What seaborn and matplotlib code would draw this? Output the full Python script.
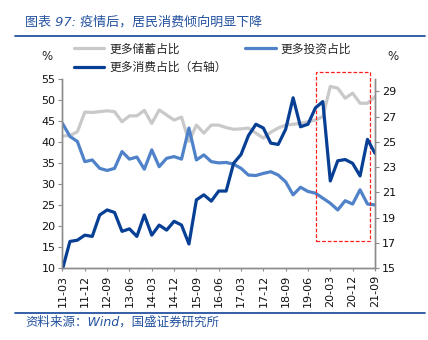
import matplotlib
matplotlib.use("Agg")
import matplotlib.pyplot as plt
import matplotlib.lines as mlines
import matplotlib.patches as mpatches
import seaborn as sns
import pandas as pd
import numpy as np

# ---- data ----
quarters = pd.period_range("2011Q1", "2021Q3", freq="Q")
dates = [f"{p.year % 100:02d}-{p.quarter * 3:02d}" for p in quarters]

savings = [41.4, 41.5, 42.4, 47.1, 47.0, 47.2, 47.4, 47.2, 44.8, 46.2,
           46.2, 47.5, 44.4, 47.6, 46.4, 45.2, 45.9, 40.1, 44.0, 42.1,
           44.0, 44.0, 43.4, 43.0, 43.1, 43.3, 42.1, 40.9, 42.3, 43.3,
           44.0, 44.2, 44.4, 44.8, 45.2, 46.0, 53.2, 52.8, 50.4, 51.6,
           49.2, 49.2, 50.8]
investment = [44.4, 41.3, 40.1, 35.3, 35.7, 33.7, 33.2, 33.7, 37.7, 35.9,
              36.4, 33.5, 38.1, 34.1, 36.1, 36.5, 35.9, 43.3, 35.7, 36.9,
              35.3, 35.0, 35.1, 34.7, 33.7, 32.1, 32.0, 32.5, 32.9, 32.1,
              30.5, 27.4, 29.2, 28.2, 27.8, 26.6, 25.4, 23.8, 26.0, 25.2,
              28.6, 25.2, 25.0]
consumption = [14.9, 17.1, 17.2, 17.6, 17.5, 19.2, 19.6, 19.4, 17.9, 18.1,
               17.5, 19.2, 17.6, 18.4, 18.0, 18.7, 18.4, 16.9, 20.4, 20.8,
               20.3, 21.1, 21.1, 23.3, 24.0, 25.5, 26.4, 26.1, 24.9, 24.8,
               26.0, 28.5, 26.2, 26.4, 27.7, 28.2, 21.9, 23.5, 23.6, 23.3,
               22.3, 25.2, 24.1]

label_sav = "更多储蓄占比"
label_inv = "更多投资占比"
label_con = "更多消费占比（右轴）"
title = "图表 97: 疫情后，居民消费倾向明显下降"
source = "资料来源：Wind，国盛证券研究所"

df = pd.DataFrame({"idx": np.arange(len(dates)), "date": dates,
                   "savings": savings, "investment": investment,
                   "consumption": consumption})

# ---- style ----
sns.set_style("white")
plt.rcParams["font.family"] = ["DejaVu Sans", "Noto Sans CJK SC"]

c_sav = "#C9C9C9"
c_inv = "#4F82C8"
c_con = "#073F95"
c_blue = "#2452A0"
c_axis = "#8C8C8C"

fig = plt.figure(figsize=(4.28, 3.40), dpi=100)
ax = fig.add_axes([0.146, 0.212, 0.730, 0.556])
ax2 = ax.twinx()

lw = 2.3
sns.lineplot(data=df, x="idx", y="savings", ax=ax, color=c_sav, lw=lw,
             solid_joinstyle="round", solid_capstyle="round", legend=False)
sns.lineplot(data=df, x="idx", y="investment", ax=ax, color=c_inv, lw=lw,
             solid_joinstyle="round", solid_capstyle="round", legend=False)
sns.lineplot(data=df, x="idx", y="consumption", ax=ax2, color=c_con, lw=lw,
             solid_joinstyle="round", solid_capstyle="round", legend=False)

ax.set_xlim(0, len(dates) - 1)
ax.set_ylim(10, 55)
ax.set_yticks(np.arange(10, 56, 5))
ax2.set_ylim(15, 30)
ax2.set_yticks(np.arange(15, 30, 2))
ticks = list(range(0, len(dates), 3))
ax.set_xticks(ticks)
ax.set_xticklabels([dates[i] for i in ticks], rotation=90)
for a in (ax, ax2):
    a.set_xlabel("")
    a.set_ylabel("")
    for s in a.spines.values():
        s.set_color(c_axis)
        s.set_linewidth(1.0)
    a.spines["top"].set_visible(False)
ax.tick_params(axis="y", left=True, length=3, width=0.8, color=c_axis,
               labelsize=8, pad=2, labelcolor="#111111")
ax.tick_params(axis="x", bottom=True, length=2, width=0.8, color=c_axis,
               labelsize=8, pad=3, labelcolor="#111111")
ax2.tick_params(axis="y", right=True, length=3, width=0.8, color=c_axis,
                labelsize=8, pad=2, labelcolor="#111111")

# red dashed highlight box (data coords on left axis)
rect = mpatches.Rectangle((34.1, 16.3), 7.2, 40.4, fill=False,
                          edgecolor="#FF2020", lw=0.9, ls=(0, (3, 1.5)),
                          clip_on=False, zorder=5)
ax.add_patch(rect)

# legend
h_sav = mlines.Line2D([], [], color=c_sav, lw=lw)
h_con = mlines.Line2D([], [], color=c_con, lw=lw)
h_inv = mlines.Line2D([], [], color=c_inv, lw=lw)
fig.legend([h_sav, h_con, h_inv], [label_sav, label_con, label_inv],
           ncol=2, loc="upper left", bbox_to_anchor=(0.172, 0.875),
           frameon=False, fontsize=8.5, handlelength=2.6, handletextpad=0.45,
           columnspacing=1.5, labelspacing=0.45, borderpad=0, borderaxespad=0)

# % labels
fig.text(47 / 428, 1 - 57 / 340, "%", fontsize=8.5, ha="center", va="center")
fig.text(393 / 428, 1 - 57 / 340, "%", fontsize=8.5, ha="center", va="center")

# title, source, rules
fig.text(25 / 428, 1 - 22 / 340, title, fontsize=9.4, color=c_blue,
         ha="left", va="center", style="italic")
fig.add_artist(mlines.Line2D([15 / 428, 425 / 428], [1 - 36 / 340] * 2,
                             color=c_blue, lw=1.3, transform=fig.transFigure))
fig.add_artist(mlines.Line2D([15 / 428, 425 / 428], [1 - 312.5 / 340] * 2,
                             color=c_blue, lw=1.3, transform=fig.transFigure))
fig.text(25 / 428, 1 - 322 / 340, source, fontsize=9, color=c_blue,
         ha="left", va="center", style="italic")

fig.savefig("out.png", dpi=100)
